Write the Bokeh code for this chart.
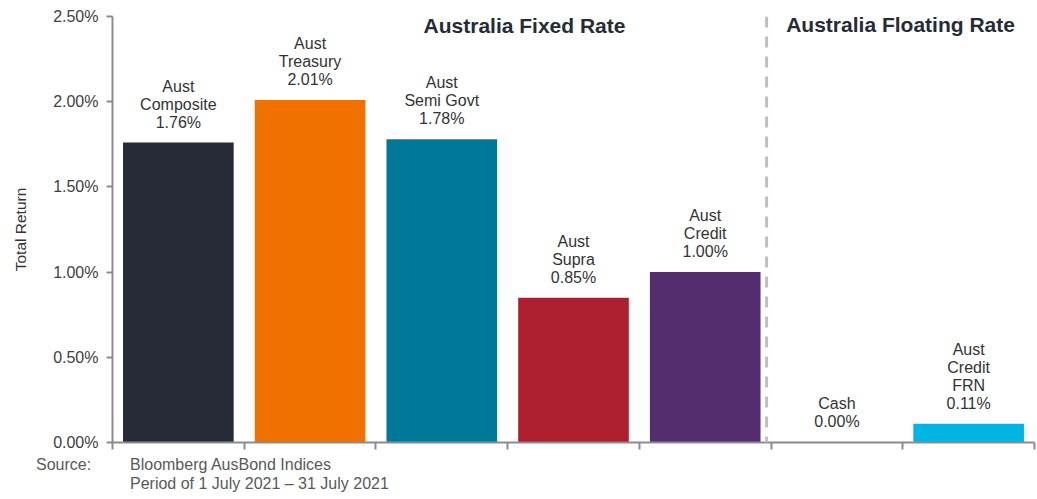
from bokeh.plotting import figure
from bokeh.layouts import column
from bokeh.models import ColumnDataSource, FixedTicker, NumeralTickFormatter, Span, Label, Range1d, Div
from bokeh.core.properties import value
from bokeh.embed import file_html
from bokeh.resources import INLINE

# ---- data ----
categories = ["Aust\nComposite", "Aust\nTreasury", "Aust\nSemi Govt", "Aust\nSupra",
              "Aust\nCredit", "Cash", "Aust\nCredit\nFRN"]
returns_pct = [1.76, 2.01, 1.78, 0.85, 1.00, 0.00, 0.11]
colors = ["#272B37", "#F07000", "#00789A", "#AD1F2F", "#532D6D", "#9E9E9E", "#00B5E2"]
y_ticks = [0.0, 0.005, 0.010, 0.015, 0.020, 0.025]
group_titles = ["Australia Fixed Rate", "Australia Floating Rate"]
source_label = "Source:"
source_lines = ["Bloomberg AusBond Indices", "Period of 1 July 2021 \u2013 31 July 2021"]

FONT = "Liberation Sans"
xs = [i + 0.5 for i in range(len(categories))]
vals = [v / 100 for v in returns_pct]
labels = [f"{c}\n{v:.2f}%" for c, v in zip(categories, returns_pct)]

src = ColumnDataSource(dict(x=xs, top=vals, color=colors, label=labels))

p = figure(width=1036, height=452, output_backend="svg", toolbar_location=None,
           x_range=Range1d(0, 7), y_range=Range1d(0, 0.025),
           frame_width=922, frame_height=426,
           min_border_left=112, min_border_right=2, min_border_top=16, min_border_bottom=10)
p.outline_line_color = None
p.xgrid.visible = False
p.ygrid.visible = False
p.background_fill_color = "white"
p.border_fill_color = "white"

p.vbar(x="x", top="top", bottom=0, width=0.84, color="color", line_color=None, source=src)

p.text(x="x", y="top", text="label", source=src, text_align="center", text_baseline="bottom",
       y_offset=-12, text_font=value(FONT), text_font_size="16px", text_color="#333333",
       text_line_height=1.06)

# separator
p.add_layout(Span(location=4.966, dimension="height", line_color="#BFBFBF",
                  line_width=3, line_dash="11 9"))

# group titles
p.add_layout(Label(x=3.128, y=0.02447, text=group_titles[0], text_align="center",
                   text_baseline="middle", text_font=FONT, text_font_size="21px",
                   text_font_style="bold", text_color="#262B38"))
p.add_layout(Label(x=5.983, y=0.02453, text=group_titles[1], text_align="center",
                   text_baseline="middle", text_font=FONT, text_font_size="21px",
                   text_font_style="bold", text_color="#262B38"))

# axes
p.yaxis.ticker = FixedTicker(ticks=y_ticks)
p.yaxis.formatter = NumeralTickFormatter(format="0.00%")
p.yaxis.axis_line_color = "#8C8C8C"
p.yaxis.axis_line_width = 2
p.yaxis.major_tick_line_color = "#8C8C8C"
p.yaxis.major_tick_line_width = 2
p.yaxis.major_tick_out = 6
p.yaxis.major_tick_in = 0
p.yaxis.minor_tick_line_color = None
p.yaxis.major_label_text_font = FONT
p.yaxis.major_label_text_font_size = "16px"
p.yaxis.major_label_text_color = "#404040"
p.yaxis.major_label_standoff = 8
p.yaxis.axis_label = "Total Return"
p.yaxis.axis_label_text_font = FONT
p.yaxis.axis_label_text_font_size = "15.5px"
p.yaxis.axis_label_text_font_style = "normal"
p.yaxis.axis_label_text_color = "#333333"
p.yaxis.axis_label_standoff = 21

xt = list(range(len(categories) + 1))
p.xaxis.ticker = FixedTicker(ticks=xt)
p.xaxis.major_label_overrides = {t: "" for t in xt}
p.xaxis.axis_line_color = "#8C8C8C"
p.xaxis.axis_line_width = 2
p.xaxis.major_tick_line_color = "#8C8C8C"
p.xaxis.major_tick_line_width = 2
p.xaxis.major_tick_out = 7
p.xaxis.major_tick_in = 0
p.xaxis.minor_tick_line_color = None

note_html = (
    f'<div style="position:relative;width:1036px;height:47px;font-family:\'Liberation Sans\';'
    f'font-size:16px;color:#595959;line-height:18.5px;">'
    f'<span style="position:absolute;left:36px;top:4px;">{source_label}</span>'
    f'<span style="position:absolute;left:130px;top:4px;">{source_lines[0]}<br>{source_lines[1]}</span>'
    f'</div>'
)
note = Div(text=note_html, width=1036, height=47, margin=(0, 0, 0, 0))

layout = column(p, note, spacing=0)
open("out.html", "w").write(file_html(layout, INLINE))
